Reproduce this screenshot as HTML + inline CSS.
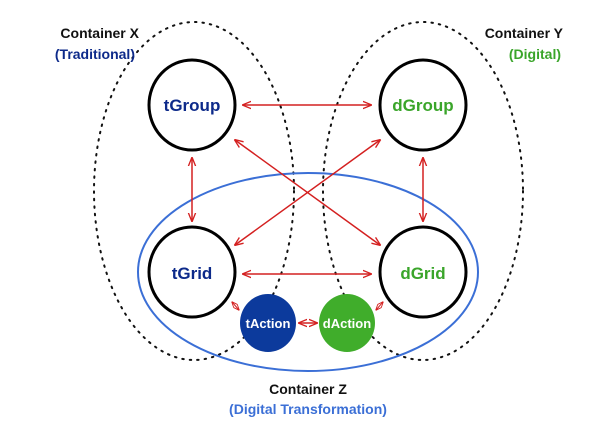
<!DOCTYPE html>
<html><head><meta charset="utf-8"><style>
html,body{margin:0;padding:0;background:#fff;}
svg{display:block;font-family:"Liberation Sans",Arial,sans-serif;font-weight:bold;}
</style></head><body>
<svg width="612" height="426" viewBox="0 0 612 426" xmlns="http://www.w3.org/2000/svg">
<defs>
<marker id="a" viewBox="0 0 10 10" refX="9" refY="5" markerWidth="6" markerHeight="6" orient="auto-start-reverse">
<path d="M0,1 L10,5 L0,9" fill="none" stroke="#d42020" stroke-width="1.5"/>
</marker>
</defs>
<rect width="612" height="426" fill="#fff"/>
<ellipse cx="194" cy="191" rx="100" ry="169" fill="none" stroke="#111" stroke-width="2" stroke-dasharray="1.5 6" stroke-linecap="round"/>
<ellipse cx="423" cy="191" rx="100" ry="169" fill="none" stroke="#111" stroke-width="2" stroke-dasharray="1.5 6" stroke-linecap="round"/>
<ellipse cx="308" cy="272" rx="170" ry="99" fill="none" stroke="#3b6fd6" stroke-width="2"/>
<g stroke="#d42020" stroke-width="1.5" fill="none">
<line x1="243" y1="105" x2="371" y2="105" marker-start="url(#a)" marker-end="url(#a)"/>
<line x1="243" y1="274" x2="371" y2="274" marker-start="url(#a)" marker-end="url(#a)"/>
<line x1="192" y1="158" x2="192" y2="221" marker-start="url(#a)" marker-end="url(#a)"/>
<line x1="423" y1="158" x2="423" y2="221" marker-start="url(#a)" marker-end="url(#a)"/>
<line x1="235" y1="140" x2="380" y2="245" marker-start="url(#a)" marker-end="url(#a)"/>
<line x1="380" y1="140" x2="235" y2="245" marker-start="url(#a)" marker-end="url(#a)"/>
<line x1="232" y1="302" x2="239" y2="310" stroke-width="1" marker-start="url(#a)" marker-end="url(#a)"/>
<line x1="383" y1="302" x2="376" y2="310" stroke-width="1" marker-start="url(#a)" marker-end="url(#a)"/>
<line x1="299" y1="323" x2="317" y2="323" marker-start="url(#a)" marker-end="url(#a)"/>
</g>
<g fill="#fff" stroke="#000" stroke-width="3">
<ellipse cx="192" cy="105" rx="43" ry="45"/>
<ellipse cx="423" cy="105" rx="43" ry="45"/>
<ellipse cx="192" cy="272" rx="43" ry="45"/>
<ellipse cx="423" cy="272" rx="43" ry="45"/>
</g>
<ellipse cx="268" cy="323" rx="28" ry="29" fill="#0c3a9c"/>
<ellipse cx="347" cy="323" rx="28" ry="29" fill="#40ad2b"/>
<g font-size="17" text-anchor="middle">
<text x="192" y="111" fill="#0d2a8a">tGroup</text>
<text x="423" y="111" fill="#3aa52a">dGroup</text>
<text x="192" y="279" fill="#0d2a8a">tGrid</text>
<text x="423" y="279" fill="#3aa52a">dGrid</text>
</g>
<g font-size="13" text-anchor="middle" fill="#fff">
<text x="268" y="328">tAction</text>
<text x="347" y="328">dAction</text>
</g>
<g font-size="14">
<text x="139" y="38" text-anchor="end" fill="#111">Container X</text>
<text x="135" y="59" text-anchor="end" fill="#0d2a8a">(Traditional)</text>
<text x="563" y="38" text-anchor="end" fill="#111">Container Y</text>
<text x="561" y="59" text-anchor="end" fill="#3aa52a">(Digital)</text>
<text x="308" y="394" text-anchor="middle" fill="#111">Container Z</text>
<text x="308" y="414" text-anchor="middle" fill="#3b6fd6">(Digital Transformation)</text>
</g>
</svg>
</body></html>
